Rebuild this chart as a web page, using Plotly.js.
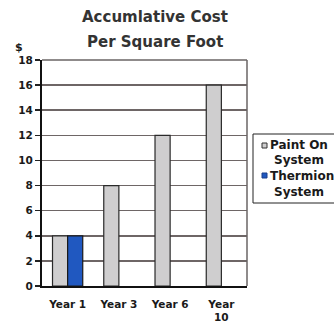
<!DOCTYPE html>
<html>
<head>
<meta charset="utf-8">
<script src="https://cdn.plot.ly/plotly-3.0.1.min.js"></script>
<style>
  html, body { margin: 0; padding: 0; background: #ffffff; }
  #chart { width: 334px; height: 327px; }
</style>
</head>
<body>
<div id="chart"></div>
<script>
// Cumulative cost per square foot over time
const years = ['Year 1', 'Year 3', 'Year 6', 'Year<br>10'];
const paintOn = [4, 8, 12, 16];
const thermion = [4, 0, 0, 0];
const yTicks = [0, 2, 4, 6, 8, 10, 12, 14, 16, 18];
const seriesNames = ['Paint On', 'Thermion'];
const seriesColors = ['#cfcecf', '#2058c0'];

const FONT = 'DejaVu Sans, Arial, sans-serif';
const bold = s => '<b>' + s + '</b>';
// no outline on empty bars
const outline = vals => vals.map(v => (v > 0 ? 1.2 : 0));

const traces = [
  {
    type: 'bar', name: seriesNames[0] + ' System',
    x: years, y: paintOn,
    marker: { color: seriesColors[0], line: { color: '#2a2a2a', width: outline(paintOn) } }
  },
  {
    type: 'bar', name: seriesNames[1] + ' System',
    x: years, y: thermion,
    marker: { color: seriesColors[1], line: { color: '#1a1a1a', width: outline(thermion) } }
  }
];

// Plot area in pixels: x 42..247, y 60..286
const L = 42, R = 247, T = 60, B = 286;
const px = v => (v - L) / (R - L);
const py = v => (B - v) / (B - T);

const txt = (s, x, y, size, opts) => Object.assign({
  text: bold(s), xref: 'paper', yref: 'paper', x: px(x), y: py(y),
  xanchor: 'left', yanchor: 'middle', showarrow: false,
  font: { family: FONT, size: size, color: '#1a1a1a' }
}, opts || {});

const titleFont = { family: FONT, size: 15, color: '#333333' };

const layout = {
  width: 334, height: 327,
  margin: { l: L, r: 334 - R, t: T, b: 327 - B },
  paper_bgcolor: '#ffffff', plot_bgcolor: '#ffffff',
  barmode: 'group', bargap: 0.41, bargroupgap: 0,
  showlegend: false,
  xaxis: {
    tickvals: years, ticktext: years.map(bold),
    tickfont: { family: FONT, size: 10.5, color: '#1a1a1a' },
    ticklabelstandoff: 7,
    showline: true, linecolor: '#111111', linewidth: 2,
    ticks: '', showgrid: false, fixedrange: true
  },
  yaxis: {
    range: [0, 18], tickvals: yTicks, ticktext: yTicks.map(bold),
    tickfont: { family: FONT, size: 10.5, color: '#1a1a1a' },
    showline: true, linecolor: '#111111', linewidth: 2,
    ticks: 'outside', ticklen: 5, tickcolor: '#222222', tickwidth: 1.5,
    showgrid: true, gridcolor: '#6e6666', gridwidth: 1.5,
    zeroline: false, fixedrange: true
  },
  shapes: [
    // top and right frame of the plot area
    { type: 'line', xref: 'paper', yref: 'paper', x0: 0, x1: 1, y0: 1, y1: 1,
      line: { color: '#6a6464', width: 1.5 } },
    { type: 'line', xref: 'paper', yref: 'paper', x0: 1, x1: 1, y0: 0, y1: 1,
      line: { color: '#6a6464', width: 1.5 } },
    // legend box and swatches
    { type: 'rect', xref: 'paper', yref: 'paper',
      x0: px(253), x1: px(345), y0: py(203), y1: py(134),
      line: { color: '#222222', width: 1 }, fillcolor: 'rgba(0,0,0,0)' },
    { type: 'rect', xref: 'paper', yref: 'paper',
      x0: px(262), x1: px(267), y0: py(148), y1: py(143),
      line: { color: '#333333', width: 1 }, fillcolor: seriesColors[0] },
    { type: 'rect', xref: 'paper', yref: 'paper',
      x0: px(262), x1: px(267), y0: py(178), y1: py(173),
      line: { color: '#1a3f8a', width: 1 }, fillcolor: seriesColors[1] }
  ],
  annotations: [
    // chart title
    txt('Accumlative Cost', 155, 17, 15, { xanchor: 'center', font: titleFont }),
    txt('Per Square Foot', 155, 42, 15, { xanchor: 'center', font: titleFont }),
    // unit label above the y axis
    txt('$', 19, 47, 11, { xanchor: 'center' }),
    // legend entries
    txt(seriesNames[0], 268, 145, 12),
    txt('System', 272, 160, 12),
    txt(seriesNames[1], 268, 176, 12),
    txt('System', 272, 192, 12)
  ]
};

Plotly.newPlot('chart', traces, layout, { displayModeBar: false, staticPlot: true });
</script>
</body>
</html>
